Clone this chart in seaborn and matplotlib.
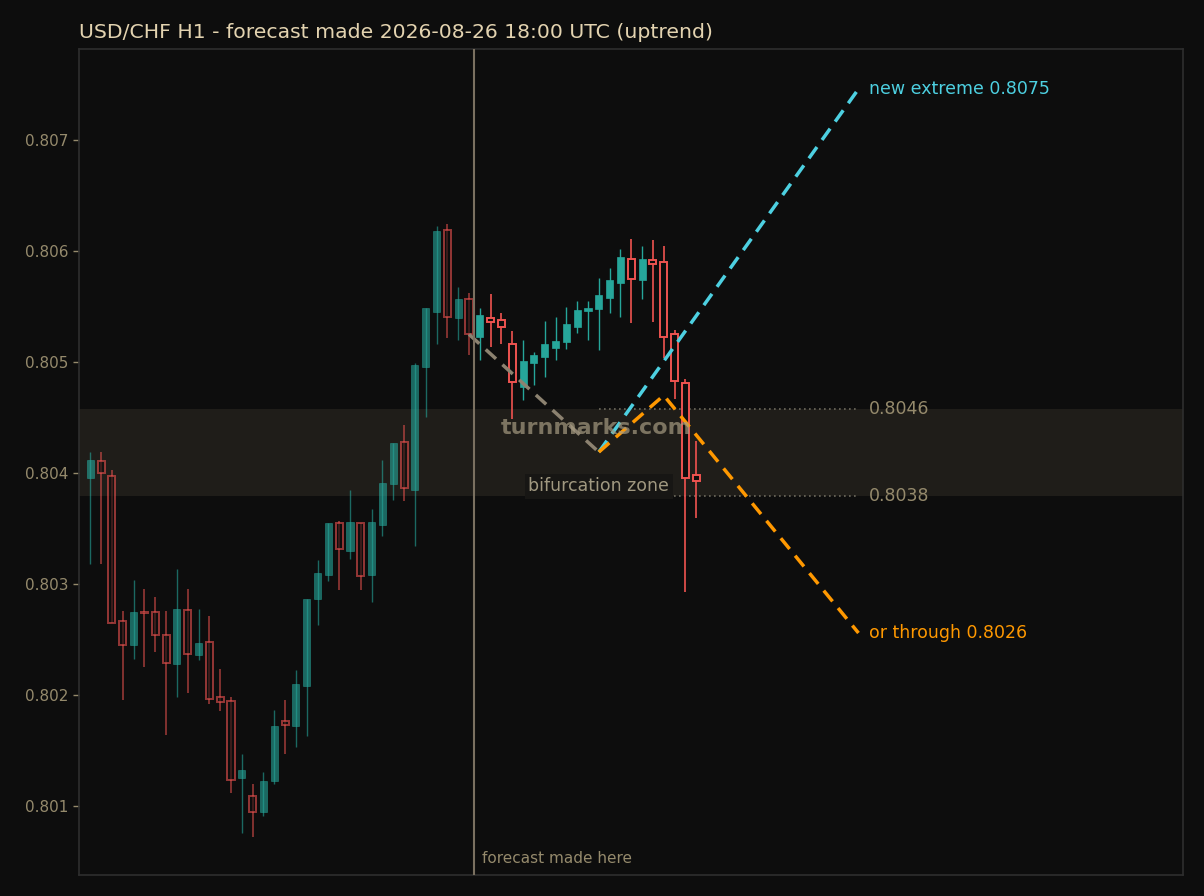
import numpy as np
import pandas as pd
import seaborn as sns
import matplotlib.pyplot as plt

# -----------------------------
# Data
# -----------------------------
opens = [0.80396, 0.80411, 0.80397, 0.80267, 0.80245, 0.80275, 0.80275, 0.80254,
         0.80228, 0.80277, 0.80236, 0.80248, 0.80198, 0.80195, 0.80125, 0.80109,
         0.80095, 0.80123, 0.80177, 0.80172, 0.80208, 0.80287, 0.80308, 0.80355,
         0.80330, 0.80355, 0.80308, 0.80353, 0.80390, 0.80428, 0.80385, 0.80496,
         0.80545, 0.80619, 0.80540, 0.80557,
         0.80523, 0.80540, 0.80538, 0.80516, 0.80478, 0.80499, 0.80505, 0.80513,
         0.80518, 0.80532, 0.80546, 0.80548, 0.80558, 0.80571, 0.80593, 0.80574,
         0.80592, 0.80590, 0.80525, 0.80481, 0.80398]
highs = [0.80419, 0.80419, 0.80403, 0.80276, 0.80304, 0.80296, 0.80288, 0.80276,
         0.80314, 0.80296, 0.80278, 0.80271, 0.80224, 0.80198, 0.80147, 0.80120,
         0.80131, 0.80187, 0.80196, 0.80223, 0.80287, 0.80322, 0.80355, 0.80357,
         0.80385, 0.80355, 0.80368, 0.80412, 0.80427, 0.80443, 0.80499, 0.80549,
         0.80623, 0.80624, 0.80568, 0.80562,
         0.80549, 0.80561, 0.80544, 0.80528, 0.80520, 0.80509, 0.80537, 0.80541,
         0.80550, 0.80555, 0.80555, 0.80576, 0.80585, 0.80602, 0.80611, 0.80605,
         0.80610, 0.80605, 0.80529, 0.80485, 0.80429]
lows = [0.80318, 0.80318, 0.80265, 0.80196, 0.80233, 0.80225, 0.80239, 0.80164,
        0.80198, 0.80202, 0.80232, 0.80192, 0.80186, 0.80112, 0.80076, 0.80072,
        0.80091, 0.80120, 0.80147, 0.80153, 0.80163, 0.80263, 0.80303, 0.80295,
        0.80323, 0.80295, 0.80284, 0.80343, 0.80376, 0.80375, 0.80334, 0.80451,
        0.80516, 0.80522, 0.80520, 0.80506,
        0.80502, 0.80514, 0.80516, 0.80449, 0.80466, 0.80479, 0.80487, 0.80502,
        0.80512, 0.80526, 0.80520, 0.80511, 0.80544, 0.80541, 0.80535, 0.80557,
        0.80536, 0.80504, 0.80467, 0.80293, 0.80360]
closes = [0.80412, 0.80400, 0.80265, 0.80245, 0.80275, 0.80274, 0.80254, 0.80229,
          0.80278, 0.80237, 0.80247, 0.80197, 0.80194, 0.80124, 0.80133, 0.80095,
          0.80123, 0.80172, 0.80173, 0.80210, 0.80287, 0.80310, 0.80355, 0.80332,
          0.80356, 0.80307, 0.80356, 0.80391, 0.80427, 0.80387, 0.80497, 0.80549,
          0.80618, 0.80541, 0.80557, 0.80525,
          0.80542, 0.80536, 0.80532, 0.80482, 0.80501, 0.80506, 0.80516, 0.80519,
          0.80534, 0.80547, 0.80549, 0.80560, 0.80574, 0.80595, 0.80575, 0.80593,
          0.80588, 0.80523, 0.80483, 0.80396, 0.80393]

forecast_idx = 35.5          # vertical "forecast made here" line
n_past = 36                  # candles drawn before the forecast

# forecast paths (bar index, price)
base_x = [35, 47]
base_y = [0.80525, 0.80419]
up_x = [47, 71]
up_y = [0.80419, 0.80746]
down_x = [47, 53, 71]
down_y = [0.80419, 0.80470, 0.80256]

zone_lo = 0.80379
zone_hi = 0.80458

yticks = [0.801, 0.802, 0.803, 0.804, 0.805, 0.806, 0.807]

# -----------------------------
# Style
# -----------------------------
BG = '#0d0d0d'
UP = '#26a69a'
DOWN = '#ef5350'
CYAN = '#4dd0e1'
ORANGE = '#ff9800'
MUTED = '#958a6c'

sns.set_theme(style='dark', rc={
    'figure.facecolor': BG,
    'axes.facecolor': BG,
    'axes.edgecolor': '#2e2e2e',
    'axes.linewidth': 1.2,
    'xtick.color': MUTED,
    'ytick.color': MUTED,
    'ytick.left': True,
    'ytick.major.size': 4,
    'ytick.major.width': 1,
})
plt.rcParams['font.family'] = ['DejaVu Sans']

df = pd.DataFrame({'open': opens, 'high': highs, 'low': lows, 'close': closes})
df['idx'] = np.arange(len(df))
df['up'] = df['close'] >= df['open']
df['past'] = df['idx'] < n_past

fig, ax = plt.subplots(figsize=(12.04, 8.96), dpi=100)
fig.subplots_adjust(left=0.0656, right=0.9826, bottom=0.0234, top=0.9453)

# bifurcation zone
ax.axhspan(zone_lo, zone_hi, color='#1f1d19', lw=0, zorder=0)

# -----------------------------
# Candles
# -----------------------------
for past, alpha in [(True, 0.6), (False, 1.0)]:
    part = df[df['past'] == past]
    ups = part[part['up']]
    downs = part[~part['up']]
    ax.vlines(ups['idx'], ups['low'], ups['high'], color=UP, lw=1, alpha=alpha, zorder=2)
    ax.vlines(downs['idx'], downs['low'], downs['high'], color=DOWN, lw=1.2, alpha=alpha, zorder=2)
    ax.bar(ups['idx'], ups['close'] - ups['open'], bottom=ups['open'], width=0.65,
           facecolor=UP, edgecolor=UP, linewidth=0.5, alpha=alpha, zorder=3)
    ax.bar(downs['idx'], downs['open'] - downs['close'], bottom=downs['close'], width=0.65,
           facecolor=BG, edgecolor=DOWN, linewidth=1.4, alpha=alpha, zorder=3)

# -----------------------------
# Forecast paths
# -----------------------------
sns.lineplot(x=base_x, y=base_y, ax=ax, color='#8c8270', lw=2.5, linestyle=(0, (4, 2.5)), zorder=4)
sns.lineplot(x=up_x, y=up_y, ax=ax, color=CYAN, lw=2.5, linestyle=(0, (4, 2.5)), zorder=5)
sns.lineplot(x=down_x, y=down_y, ax=ax, color=ORANGE, lw=2.5, linestyle=(0, (4, 2.5)), zorder=5)

ax.hlines([zone_hi, zone_lo], up_x[0], up_x[1], colors='#6e6a5e', lw=1.2, linestyles=(0, (1, 2)), zorder=1)

ax.axvline(forecast_idx, color='#7a7060', lw=1.5, zorder=4)

# -----------------------------
# Text
# -----------------------------
ax.text(72, up_y[-1], f'new extreme {up_y[-1]:.4f}', color=CYAN, fontsize=12.5, va='center')
ax.text(72, down_y[-1], f'or through {down_y[-1]:.4f}', color=ORANGE, fontsize=12.5, va='center')
ax.text(72, zone_hi, f'{zone_hi:.4f}', color=MUTED, fontsize=12.5, va='center')
ax.text(72, zone_lo, f'{zone_lo:.4f}', color=MUTED, fontsize=12.5, va='center')
ax.text(47, 0.80388, 'bifurcation zone', color='#a09880', fontsize=12.5, ha='center', va='center',
        bbox=dict(boxstyle='square,pad=0.2', facecolor='#171614', edgecolor='none'), zorder=6)
ax.text(46.8, 0.80441, 'turnmarks.com', color='#a59a80', alpha=0.7, fontsize=16,
        fontweight='bold', ha='center', va='center', zorder=7)
ax.text(forecast_idx + 0.7, 0.80053, 'forecast made here', color=MUTED, fontsize=11, va='center')

ax.set_title('USD/CHF H1 - forecast made 2026-08-26 18:00 UTC (uptrend)', loc='left',
             color='#e3d3b0', fontsize=14.65, pad=8)

ax.set_xlim(-1.05, 101)
ax.set_ylim(0.80038, 0.80782)
ax.set_yticks(yticks)
ax.set_yticklabels([f'{t:.3f}' for t in yticks], fontsize=11)
ax.set_xticks([])
ax.set_xlabel('')
ax.set_ylabel('')
ax.grid(False)

plt.savefig('out.png', dpi=100, facecolor=BG)
